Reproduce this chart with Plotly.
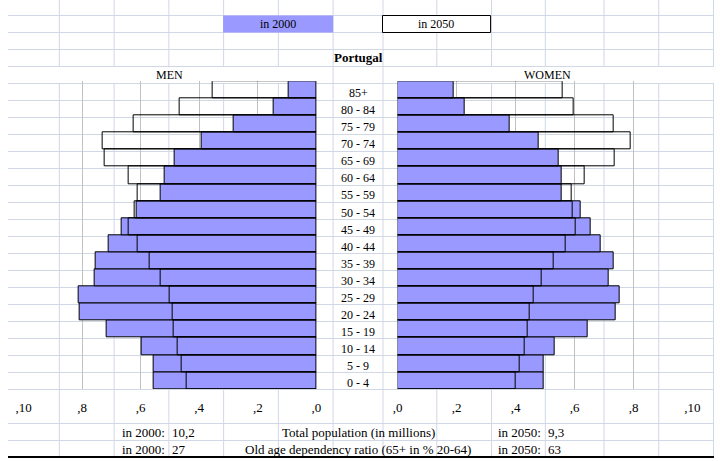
import plotly.graph_objects as go

# ---------------- data ----------------
ages = ["0 - 4", "5 - 9", "10 - 14", "15 - 19", "20 - 24", "25 - 29", "30 - 34",
        "35 - 39", "40 - 44", "45 - 49", "50 - 54", "55 - 59", "60 - 64",
        "65 - 69", "70 - 74", "75 - 79", "80 - 84", "85+"]
men_2000 = [0.555, 0.555, 0.598, 0.715, 0.809, 0.812, 0.758, 0.755, 0.708,
            0.665, 0.615, 0.531, 0.518, 0.484, 0.391, 0.284, 0.147, 0.094]
men_2050 = [0.444, 0.461, 0.474, 0.488, 0.491, 0.501, 0.531, 0.571, 0.611,
            0.641, 0.620, 0.611, 0.641, 0.722, 0.730, 0.625, 0.468, 0.353]
women_2000 = [0.494, 0.494, 0.533, 0.643, 0.739, 0.752, 0.716, 0.732, 0.690,
              0.656, 0.620, 0.557, 0.557, 0.547, 0.477, 0.381, 0.228, 0.189]
women_2050 = [0.399, 0.415, 0.432, 0.441, 0.448, 0.462, 0.487, 0.530, 0.570,
              0.603, 0.593, 0.590, 0.633, 0.736, 0.789, 0.732, 0.596, 0.560]
tick_vals = [0, 0.2, 0.4, 0.6, 0.8, 1.0]
tick_labels = [",0", ",2", ",4", ",6", ",8", ",10"]
series_names = ["in 2000", "in 2050"]
title = "Portugal"
side_labels = ["MEN", "WOMEN"]
stat_rows = [
    ("in 2000:", "10,2", "Total population (in millions)", "in 2050:", "9,3"),
    ("in 2000:", "27", "Old age dependency ratio (65+ in % 20-64)", "in 2050:", "63"),
]

W, H = 722, 461
FONT = "Liberation Serif"
BLUE = "#9999FF"
SHEET = "#D0D7E5"
GRID = "#C0C0C0"


def px(x):
    return x / W


def py(y):
    return 1 - y / H


fig = go.Figure()

# bars: 2000 filled, 2050 outline on top
fig.add_trace(go.Bar(y=ages, x=men_2000, orientation="h", xaxis="x", yaxis="y",
                     marker=dict(color=BLUE, line=dict(color="black", width=1)),
                     name=series_names[0], showlegend=False))
fig.add_trace(go.Bar(y=ages, x=women_2000, orientation="h", xaxis="x2", yaxis="y",
                     marker=dict(color=BLUE, line=dict(color="black", width=1)),
                     name=series_names[0], showlegend=False))
fig.add_trace(go.Bar(y=ages, x=men_2050, orientation="h", xaxis="x", yaxis="y",
                     marker=dict(color="rgba(0,0,0,0)", line=dict(color="black", width=1)),
                     name=series_names[1], showlegend=False))
fig.add_trace(go.Bar(y=ages, x=women_2050, orientation="h", xaxis="x2", yaxis="y",
                     marker=dict(color="rgba(0,0,0,0)", line=dict(color="black", width=1)),
                     name=series_names[1], showlegend=False))

shapes = []
# spreadsheet horizontal lines
row_lines = [15 + 17 * k for k in range(26) if 15 + 17 * k != 406]
for y in row_lines:
    shapes.append(dict(type="line", xref="paper", yref="paper", x0=0, x1=1,
                       y0=py(y + 0.5), y1=py(y + 0.5),
                       line=dict(color=SHEET, width=1), layer="below"))
# spreadsheet vertical lines
col_lines = [52, 108, 164, 220, 276, 332, 383, 438, 494, 549, 609, 665, 721]
for x in col_lines:
    if x in (332, 383):
        segs = [(0, 457)]
    else:
        segs = [(0, 66), (83, 457)]
    for a, b in segs:
        shapes.append(dict(type="line", xref="paper", yref="paper",
                           x0=px(x + 0.5), x1=px(x + 0.5), y0=py(a), y1=py(b),
                           line=dict(color=SHEET, width=1), layer="below"))
# legend cells
shapes.append(dict(type="rect", xref="paper", yref="paper", x0=px(220), x1=px(332.5),
                   y0=py(32.5), y1=py(15.5), fillcolor=BLUE, line=dict(width=0),
                   layer="below"))
shapes.append(dict(type="rect", xref="paper", yref="paper", x0=px(383), x1=px(493.5),
                   y0=py(32.5), y1=py(15.5), fillcolor="white",
                   line=dict(color="black", width=1), layer="below"))
# bottom border
shapes.append(dict(type="line", xref="paper", yref="paper", x0=0, x1=1,
                   y0=py(457), y1=py(457), line=dict(color="black", width=2)))

ann = []


def note(text, x, y, size=12, xanchor="center", yref="paper", yshift=0):
    ann.append(dict(text=text, x=x, y=y, xref="paper", yref=yref,
                    xanchor=xanchor, yanchor="middle", yshift=yshift,
                    showarrow=False,
                    font=dict(size=size, family=FONT, color="black")))


note(series_names[0], px(276), py(24))
note(series_names[1], px(438), py(24))
note("<b>" + title + "</b>", px(358), py(58), size=13)
note(side_labels[0], px(165), py(75.5))
note(side_labels[1], px(552), py(75.5))
for a in ages:
    note(a, px(358), a, yref="y", yshift=-3)
for i, row in enumerate(stat_rows):
    yc = py(432 + 17 * i)
    note(row[0], px(163), yc, size=13, xanchor="right")
    note(row[1], px(166), yc, size=13, xanchor="left")
    note(row[2], px(358), yc, size=13)
    note(row[3], px(547), yc, size=13, xanchor="right")
    note(row[4], px(550), yc, size=13, xanchor="left")

axis_common = dict(tickvals=tick_vals, ticktext=tick_labels, showgrid=True,
                   gridcolor=GRID, gridwidth=1, zeroline=False, showline=False,
                   ticks="", ticklabelstandoff=9, fixedrange=True,
                   tickfont=dict(size=13, family=FONT, color="black"))

fig.update_layout(
    width=W, height=H,
    margin=dict(l=0, r=0, t=0, b=0),
    paper_bgcolor="white",
    plot_bgcolor="rgba(0,0,0,0)",
    barmode="overlay",
    bargap=0,
    showlegend=False,
    xaxis=dict(domain=[px(16), px(315.3)], range=[1.0, 0], anchor="y", **axis_common),
    xaxis2=dict(domain=[px(398.5), px(700)], range=[0, 1.0], anchor="y", **axis_common),
    yaxis=dict(domain=[py(389), py(81.3)], range=[-0.5, 17.5], visible=False,
               categoryorder="array", categoryarray=ages, fixedrange=True),
    shapes=shapes,
    annotations=ann,
    font=dict(family=FONT, color="black"),
)

fig.write_html("out.html", config={"displayModeBar": False})
